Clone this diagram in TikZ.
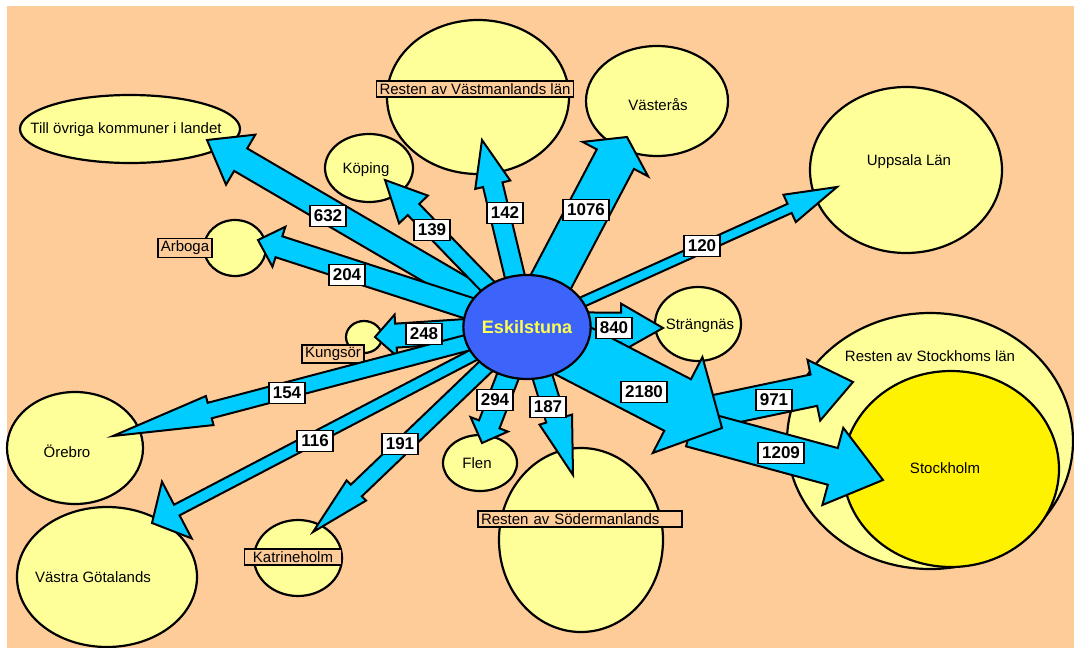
\documentclass[tikz,border=0pt]{standalone}
\usepackage{fontspec}
\setmainfont{Liberation Sans}
\usetikzlibrary{calc,shapes.geometric}
\definecolor{peach}{RGB}{254,204,153}
\definecolor{pale}{RGB}{255,255,153}
\definecolor{flowcyan}{RGB}{0,204,255}
\definecolor{eskblue}{RGB}{60,100,250}
\definecolor{eskyellow}{RGB}{255,255,80}
\tikzset{
  town/.style={ellipse, draw, line width=2.2pt, fill=pale, inner sep=0pt},
  townname/.style={font=\fontsize{15}{17}\selectfont},
  namebox/.style={draw, line width=1.8pt, fill=peach, inner xsep=3pt, inner ysep=2.5pt, font=\fontsize{15}{17}\selectfont},
  flow/.style={draw, line width=2pt, fill=flowcyan},
  numbox/.style={draw, line width=1.8pt, fill=white, inner xsep=4pt, inner ysep=2pt, minimum height=21pt, font=\fontsize{17}{19}\selectfont\bfseries}
}
\newcommand{\flowarrow}[5]{%
  \coordinate (hb) at ($(#2)!#5pt!(#1)$);
  \draw[flow] ($(#1)!#3pt!90:(#2)$) -- ($(hb)!#3pt!90:(#2)$) -- ($(hb)!#4pt!90:(#2)$) -- (#2)
    -- ($(hb)!#4pt!-90:(#2)$) -- ($(hb)!#3pt!-90:(#2)$) -- ($(#1)!#3pt!-90:(#2)$) -- cycle;}
\begin{document}
\begin{tikzpicture}[x=1pt, y=-1pt, line join=miter]
\useasboundingbox (0,0) rectangle (1074,648);
\fill[white] (0,0) rectangle (1074,648);
\fill[peach] (7,6) rectangle (1074,648);

\node[town, minimum width=220pt, minimum height=68pt] (ovriga) at (130,129) {};
\node[town, minimum width=88pt, minimum height=68pt] (koping) at (369,168) {};
\node[town, minimum width=182pt, minimum height=154pt] (vastman) at (478,97) {};
\node[town, minimum width=142pt, minimum height=110pt] (vasteras) at (657,101) {};
\node[town, minimum width=192pt, minimum height=166pt] (uppsala) at (906,170) {};
\node[town, minimum width=62pt, minimum height=56pt] (arboga) at (235,248) {};
\node[town, minimum width=36pt, minimum height=32pt] (kungsor) at (364,337) {};
\node[town, minimum width=136pt, minimum height=112pt] (orebro) at (75,448) {};
\node[town, minimum width=180pt, minimum height=140pt] (vgotaland) at (107,577) {};
\node[town, minimum width=88pt, minimum height=76pt] (katrineholm) at (298,558) {};
\node[town, minimum width=74pt, minimum height=56pt] (flen) at (480,463) {};
\node[town, minimum width=164pt, minimum height=184pt] (soderman) at (581,540) {};
\node[town, minimum width=86pt, minimum height=74pt] (strangnas) at (698,324) {};
\node[town, minimum width=286pt, minimum height=256pt] (sthlmlan) at (930,441) {};
\node[town, fill=yellow, minimum width=216pt, minimum height=196pt] (stockholm) at (951,469) {};

\node[townname] (ovriga-t) at (126,130) {Till övriga kommuner i landet};
\node[townname] (koping-t) at (366,170) {Köping};
\node[townname] (vasteras-t) at (658,105) {Västerås};
\node[townname] (uppsala-t) at (909,162) {Uppsala Län};
\node[townname] (orebro-t) at (67,451) {Örebro};
\node[townname] (vgotaland-t) at (93,577) {Västra Götalands};
\node[townname] (flen-t) at (477,463) {Flen};
\node[townname] (strangnas-t) at (700,326) {Strängnäs};
\node[townname] (sthlmlan-t) at (930,356) {Resten av Stockhoms län};
\node[townname] (stockholm-t) at (945,468) {Stockholm};
\node[namebox] (vastman-t) at (475,89) {Resten av Västmanlands län};
\node[namebox] (arboga-t) at (185,248) {Arboga};
\node[namebox] (kungsor-t) at (333,354) {Kungsör};
\node[namebox, minimum width=97pt, align=left] (katrineholm-t) at (293,557) {Katrineholm};
\node[namebox, text width=198pt, align=left] (soderman-t) at (580,519) {Resten av Södermanlands};

\coordinate (src) at (527,327);
\coordinate (t-ovriga) at (207,140);
\coordinate (t-koping) at (385,180);
\coordinate (t-vastman) at (482,140);
\coordinate (t-vasteras) at (627,137);
\coordinate (t-uppsala) at (837,187);
\coordinate (t-arboga) at (258,240);
\coordinate (t-kungsor) at (375,337);
\coordinate (t-orebro) at (113,436);
\coordinate (t-vgotaland) at (152,523);
\coordinate (t-katrineholm) at (313,532);
\coordinate (t-flen) at (482,443);
\coordinate (t-soderman) at (573,475);
\coordinate (t-strangnas) at (663,328);
\coordinate (s-sthlmlan) at (686,417);
\coordinate (t-sthlmlan) at (853,382);
\coordinate (s-stockholm) at (691,428);
\coordinate (t-stockholm) at (883,480);
\coordinate (t-split) at (722,428);

\flowarrow{s-sthlmlan}{t-sthlmlan}{16}{31}{40}
\flowarrow{s-stockholm}{t-stockholm}{19}{40}{52}
\foreach \tip/\w/\h/\l in {t-ovriga/13/29/39, t-arboga/11/21/22, t-koping/8/20/41,
    t-vastman/10/18/46, t-vasteras/21/37/25, t-uppsala/5/15/52, t-kungsor/12/21/21,
    t-orebro/8/15/100, t-vgotaland/6/32/28, t-katrineholm/8/14/60, t-flen/11/20/20,
    t-soderman/10/17/58, t-strangnas/15/24/42, t-split/29/54/50}
  {\flowarrow{src}{\tip}{\w}{\h}{\l}}

\node[town, fill=eskblue, minimum width=114pt, minimum height=104pt, text=eskyellow,
  font=\fontsize{18}{20}\selectfont\bfseries] (esk) at (src) {Eskilstuna};

\foreach \val/\x/\y in {632/328/216, 204/347/275, 139/432/230, 142/505/213, 1076/586/210,
    120/702/246, 248/424/334, 840/614/328, 2180/644/392, 294/495/400, 187/548/407,
    191/400/444, 154/287/393, 116/315/441, 971/774/400, 1209/781/453}
  \node[numbox] (n\val) at (\x,\y) {\val};
\end{tikzpicture}
\end{document}
